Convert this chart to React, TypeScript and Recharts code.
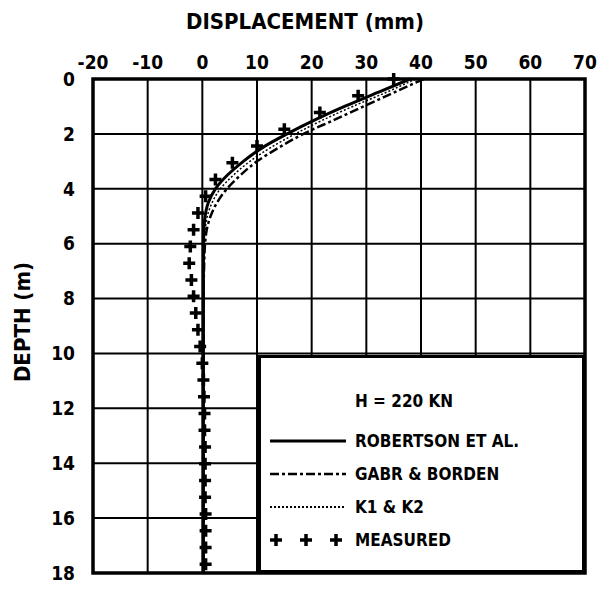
import { CartesianGrid, Legend, ReferenceArea, Scatter, ScatterChart, XAxis, YAxis } from 'recharts'

const FONT = "'DejaVu Sans Condensed', 'DejaVu Sans', sans-serif"

const dispTicks = [-20, -10, 0, 10, 20, 30, 40, 50, 60, 70]
const depthTicks = [0, 2, 4, 6, 8, 10, 12, 14, 16, 18]

const curveDepth = [0, 0.5, 1, 1.5, 2, 2.5, 3, 3.5, 4, 4.5, 5, 5.5, 6, 7, 8, 10, 14, 18]
const robertson = [38, 32, 26, 20.5, 15.5, 11, 7.5, 4.6, 2.4, 1.1, 0.5, 0.3, 0.2, 0.2, 0.2, 0.2, 0.2, 0.2]
const gabrBorden = [40.5, 35, 29.5, 24, 18.5, 14, 10, 7, 4.5, 2.7, 1.5, 0.8, 0.5, 0.3, 0.2, 0.2, 0.2, 0.2]
const k1k2 = [39, 33.5, 27.5, 22, 17, 12.5, 8.7, 5.7, 3.3, 1.8, 0.9, 0.5, 0.3, 0.2, 0.2, 0.2, 0.2, 0.2]

// inclinometer readings
const measuredDepth = [
  0, 0.61, 1.22, 1.83, 2.44, 3.05, 3.66, 4.27, 4.88, 5.49, 6.1, 6.71, 7.32, 7.92, 8.53,
  9.14, 9.75, 10.36, 10.97, 11.58, 12.19, 12.8, 13.41, 14.02, 14.63, 15.24, 15.85, 16.46, 17.07, 17.68,
]
const measuredDisp = [
  35, 28.5, 21.5, 15, 10, 5.5, 2.4, 0.6, -0.8, -1.6, -2.2, -2.4, -2, -1.6, -1.2,
  -0.8, -0.4, 0, 0.2, 0.3, 0.4, 0.4, 0.5, 0.5, 0.5, 0.5, 0.6, 0.6, 0.6, 0.6,
]

const toPoints = (xs: number[], ys: number[]) => xs.map((x, i) => ({ x, y: ys[i] }))

const robertsonData = toPoints(robertson, curveDepth)
const gabrData = toPoints(gabrBorden, curveDepth)
const k1k2Data = toPoints(k1k2, curveDepth)
const measuredData = toPoints(measuredDisp, measuredDepth)

const NoDot = () => <g />

const Plus = (props: any) => {
  const { cx, cy } = props
  return (
    <path
      d={`M${cx - 6},${cy}h12M${cx},${cy - 6}v12`}
      stroke="#000"
      strokeWidth={3.5}
      fill="none"
    />
  )
}

const legendRows = [
  { name: 'ROBERTSON ET AL.', dash: undefined, width: 3 },
  { name: 'GABR & BORDEN', dash: '9 3 3 3', width: 2.5 },
  { name: 'K1 & K2', dash: '2 2', width: 2 },
]

function LegendBox() {
  const textStyle = { fontFamily: FONT, fontWeight: 'bold' as const, fontSize: 17 }
  return (
    <svg width={327} height={218} style={{ display: 'block' }}>
      <rect x={1.5} y={1.5} width={324} height={215} fill="#fff" stroke="#000" strokeWidth={3} />
      <text x={97} y={52} style={textStyle}>
        H = 220 KN
      </text>
      {legendRows.map((r, i) => (
        <g key={r.name}>
          <line
            x1={12}
            x2={88}
            y1={86 + i * 33}
            y2={86 + i * 33}
            stroke="#000"
            strokeWidth={r.width}
            strokeDasharray={r.dash}
          />
          <text x={97} y={92 + i * 33} style={textStyle}>
            {r.name}
          </text>
        </g>
      ))}
      {[18, 48, 78].map((x) => (
        <path key={x} d={`M${x - 6},185h12M${x},179v12`} stroke="#000" strokeWidth={3.5} />
      ))}
      <text x={97} y={191} style={textStyle}>
        MEASURED
      </text>
    </svg>
  )
}

export default function App() {
  const tick = { fontSize: 19, fontWeight: 'bold', fill: '#000', fontFamily: FONT }
  return (
    <div style={{ position: 'absolute', left: 0, top: 0, background: '#fff' }}>
      <ScatterChart width={610} height={592} margin={{ top: 0, right: 25, bottom: 19, left: 0 }}>
        <CartesianGrid stroke="#000" strokeWidth={2} verticalPoints={undefined} />
        <XAxis
          type="number"
          dataKey="x"
          orientation="top"
          domain={[-20, 70]}
          ticks={dispTicks}
          interval={0}
          height={79}
          axisLine={false}
          tickLine={false}
          tickMargin={4}
          tick={tick}
          label={{
            content: () => (
              <text
                x={305}
                y={29}
                textAnchor="middle"
                style={{ fontFamily: FONT, fontWeight: 'bold', fontSize: 22 }}
              >
                DISPLACEMENT (mm)
              </text>
            ),
          }}
        />
        <YAxis
          type="number"
          dataKey="y"
          reversed
          domain={[0, 18]}
          ticks={depthTicks}
          interval={0}
          width={93}
          axisLine={false}
          tickLine={false}
          tickMargin={12}
          tick={tick}
          label={{
            content: () => (
              <text
                x={0}
                y={0}
                transform="translate(30,322) rotate(-90)"
                textAnchor="middle"
                style={{ fontFamily: FONT, fontWeight: 'bold', fontSize: 22 }}
              >
                DEPTH (m)
              </text>
            ),
          }}
        />
        <ReferenceArea x1={-20} x2={70} y1={0} y2={18} fill="none" stroke="#000" strokeWidth={3.5} ifOverflow="visible" />
        <Scatter
          name="ROBERTSON ET AL."
          data={robertsonData}
          fill="#000"
          line={{ stroke: '#000', strokeWidth: 3 }}
          lineJointType="monotoneY"
          shape={NoDot}
          isAnimationActive={false}
        />
        <Scatter
          name="GABR & BORDEN"
          data={gabrData}
          fill="#000"
          line={{ stroke: '#000', strokeWidth: 2.5, strokeDasharray: '9 3 3 3' }}
          lineJointType="monotoneY"
          shape={NoDot}
          isAnimationActive={false}
        />
        <Scatter
          name="K1 & K2"
          data={k1k2Data}
          fill="#000"
          line={{ stroke: '#000', strokeWidth: 1.5, strokeDasharray: '2 2' }}
          lineJointType="monotoneY"
          shape={NoDot}
          isAnimationActive={false}
        />
        <Scatter
          name="MEASURED"
          data={measuredData}
          fill="#000"
          shape={Plus}
          isAnimationActive={false}
        />
        <Legend
          layout="horizontal"
          verticalAlign="middle"
          align="center"
          content={() => <LegendBox />}
          wrapperStyle={{ position: 'absolute', left: 258, top: 355, width: 327, height: 218 }}
        />
      </ScatterChart>
    </div>
  )
}
